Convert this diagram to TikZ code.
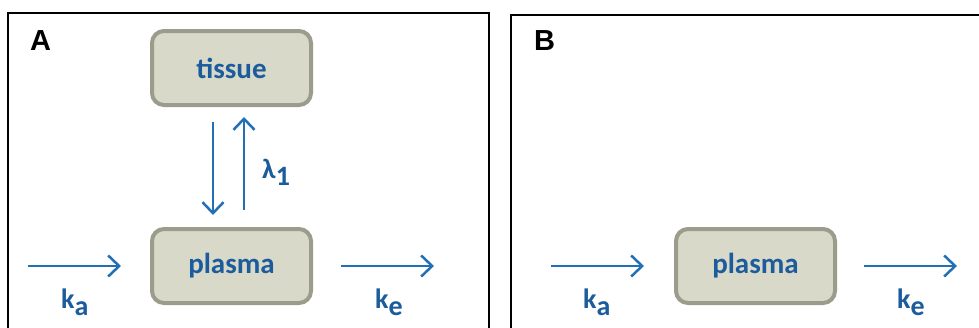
\documentclass[tikz,border=0pt]{standalone}
\usepackage{fontspec}
\setmainfont{Carlito}
\newfontfamily\panelfont{Liberation Sans}
\usetikzlibrary{arrows.meta}
\definecolor{boxfill}{HTML}{D8D9C9}
\definecolor{boxline}{HTML}{9B9C8B}
\definecolor{txtblue}{HTML}{1C5C9C}
\definecolor{arrblue}{HTML}{2170B5}
\tikzset{
  comp/.style={draw=boxline, fill=boxfill, line width=4pt, rounded corners=12pt,
    minimum width=159pt, minimum height=74pt, inner sep=0pt,
    text=txtblue, font=\bfseries\fontsize{29}{32}\selectfont},
  flow/.style={draw=arrblue, line width=2.5pt, -{Straight Barb[length=11pt,width=21pt,line width=2.5pt]}},
  rate/.style={text=txtblue, font=\bfseries\fontsize{28}{31}\selectfont, inner sep=0pt, anchor=base west},
  frame/.style={draw=black, line width=2pt},
  panel/.style={font=\panelfont\bfseries\fontsize{29}{32}\selectfont, inner sep=0pt, anchor=base west}
}
\begin{document}
\begin{tikzpicture}[x=1pt,y=-1pt]
\useasboundingbox (0,0) rectangle (979,327);
\clip (0,0) rectangle (979,327);
\fill[white] (0,0) rectangle (979,327);
% frames
\draw[frame] (8,340) -- (8,13) -- (489,13) -- (489,340);
\draw[frame] (511,340) -- (511,15) -- (990,15);
\node[panel] (la) at (30,50) {A};
\node[panel] (lb) at (534,50) {B};
% panel A
\node[comp] (tissue) at (231.5,68) {tissue};
\node[comp] (plasmaA) at (231.5,266) {plasma};
\draw[flow, shorten <=15pt, shorten >=12pt] ([xshift=-18.5pt]tissue.south) -- ([xshift=-18.5pt]plasmaA.north);
\draw[flow, shorten <=17pt, shorten >=10pt] ([xshift=12.5pt]plasmaA.north) -- ([xshift=12.5pt]tissue.south);
\node[rate] (lam) at (262,178) {λ\raisebox{-7pt}{1}};
\coordinate (inA) at (28,266);
\coordinate (outA) at (434,266);
\draw[flow, shorten >=29pt] (inA) -- (plasmaA.west);
\draw[flow, shorten <=28pt] (plasmaA.east) -- (outA);
\node[rate] (kaA) at (61,308) {k\raisebox{-7pt}{a}};
\node[rate] (keA) at (375,308) {k\raisebox{-7pt}{e}};
% panel B
\node[comp] (plasmaB) at (755.5,266) {plasma};
\coordinate (inB) at (551,266);
\coordinate (outB) at (957,266);
\draw[flow, shorten >=30pt] (inB) -- (plasmaB.west);
\draw[flow, shorten <=27pt] (plasmaB.east) -- (outB);
\node[rate] (kaB) at (583,308) {k\raisebox{-7pt}{a}};
\node[rate] (keB) at (897,308) {k\raisebox{-7pt}{e}};
\end{tikzpicture}
\end{document}
